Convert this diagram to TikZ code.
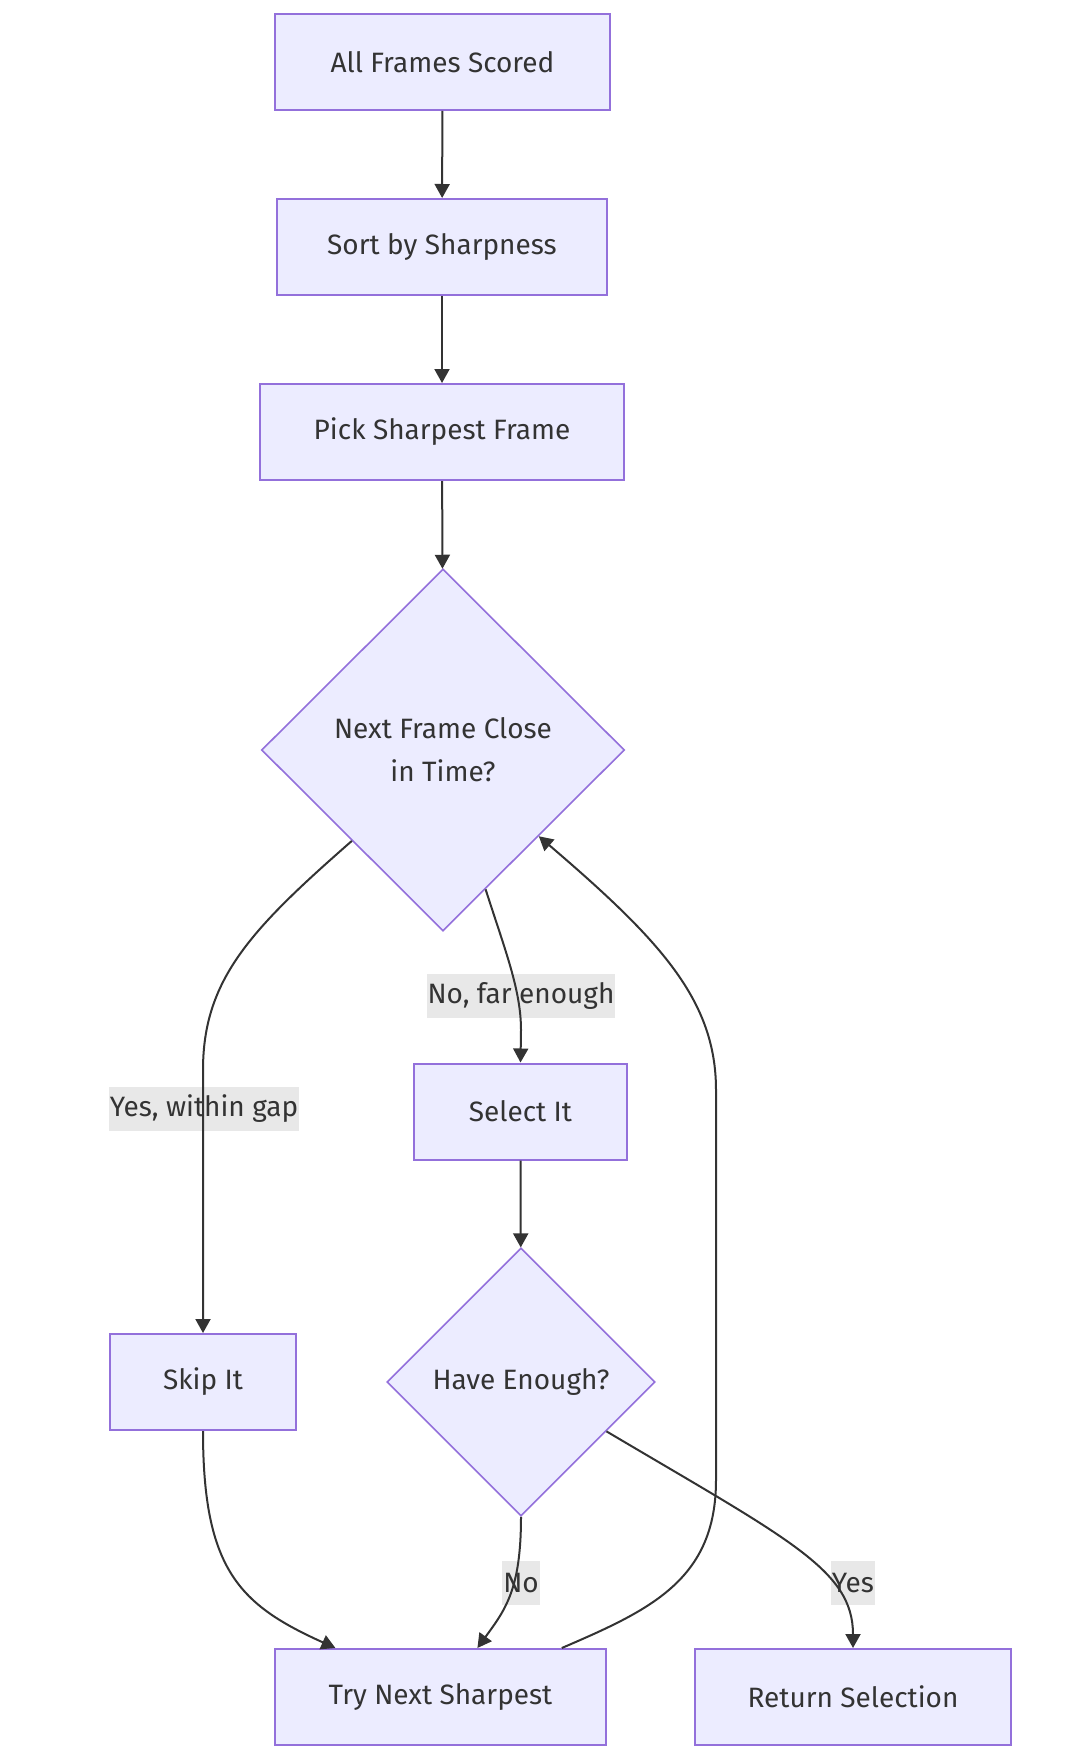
\documentclass[tikz,border=0pt]{standalone}
\usepackage{fontspec}
\setmainfont{Fira Sans}
\usetikzlibrary{arrows.meta}
\usetikzlibrary{shapes.geometric}
\definecolor{nodefill}{HTML}{ECECFF}
\definecolor{nodeline}{HTML}{9370DB}
\definecolor{edgeline}{HTML}{333333}
\definecolor{lblfill}{HTML}{E8E8E8}
\tikzset{
      proc/.style={draw=nodeline, fill=nodefill, line width=1pt, text=edgeline,
            minimum height=48pt, inner sep=0pt, font=\fontsize{14}{21.5}\selectfont},
      decision/.style={diamond, aspect=1, draw=nodeline, fill=nodefill, line width=0.8pt,
            text=edgeline, inner sep=0pt, align=center, font=\fontsize{14}{21.5}\selectfont},
      flow/.style={draw=edgeline, line width=1pt, -{Triangle[length=7pt,width=7.5pt]}},
      elabel/.style={fill=lblfill, text=edgeline, inner xsep=0.5pt, inner ysep=0pt,
            minimum height=22pt, font=\fontsize{14}{16}\selectfont},
}

\begin{document}
\begin{tikzpicture}[x=0.5pt, y=-0.5pt]
        \useasboundingbox (0,0) rectangle (1083,1760);

        % Boxes and questions
        \node[proc, minimum width=167.5pt] (scored) at (442.5,62) {All Frames Scored};
        \node[proc, minimum width=165pt] (sorted) at (442,247) {Sort by Sharpness};
        \node[proc, minimum width=182pt] (pick) at (442,432) {Pick Sharpest Frame};
        \node[decision, minimum width=181.5pt, minimum height=181pt] (close) at (443,750)
              {Next Frame Close\\in Time?};
        \node[proc, minimum width=106.5pt] (select) at (520.5,1111.5) {Select It};
        \node[proc, minimum width=93pt] (skip) at (203,1382) {Skip It};
        \node[decision, minimum width=134pt, minimum height=134pt] (enough) at (521,1382)
              {Have Enough?};
        \node[proc, minimum width=165.5pt] (next) at (440.5,1697) {Try Next Sharpest};
        \node[proc, minimum width=158pt] (result) at (853,1697) {Return Selection};

        % Edge labels
        \node[elabel] (farlbl) at (521,996) {No, far enough};
        \node[elabel] (gaplbl) at (204,1109) {Yes, within gap};
        \node[elabel] (nolbl) at (521,1583) {No};
        \node[elabel] (yeslbl) at (853,1583) {Yes};

        % Connectors
        \draw[flow] (scored) -- (sorted);
        \draw[flow] (sorted) -- (pick);
        \draw[flow] (pick) -- (close);

        \draw[flow] (close.south west) .. controls (250,930) and (203,980) .. (203,1070) -- (skip.north);
        \draw[flow] (close.-73) .. controls (505,950) and (521,990) .. (521,1030) -- (select.north);

        \draw[flow] (select) -- (enough);
        \draw[flow] (enough.south) .. controls (521,1590) and (505,1610) .. (next.53);
        \draw[flow] (enough.-30) .. controls (790,1540) and (853,1570) .. (result.north);

        \draw[flow] (skip.south) .. controls (203,1570) and (240,1605) .. (next.155);
        \draw[flow] (next.22) .. controls (650,1610) and (716,1580) .. (716,1480)
              -- (716,1090) .. controls (716,1000) and (660,940) .. (close.-42);

\end{tikzpicture}
\end{document}
